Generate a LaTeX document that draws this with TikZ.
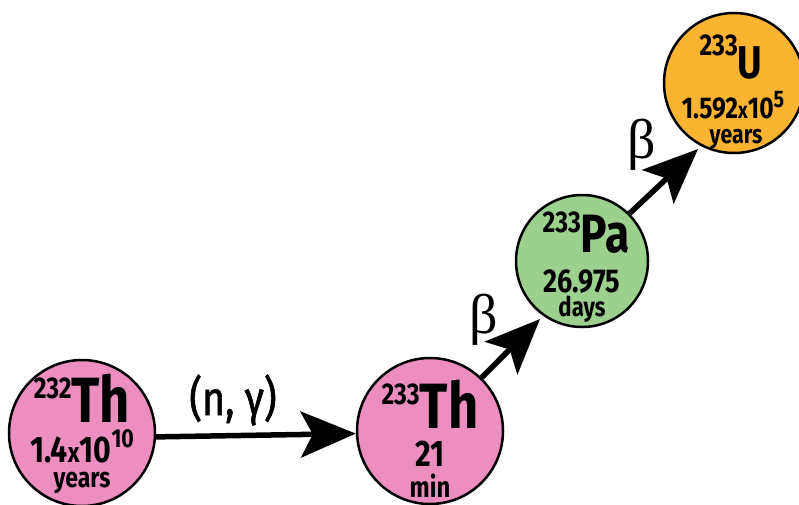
\documentclass[tikz,border=0pt]{standalone}
\usepackage{fontspec}
\newfontfamily\cond{Fira Sans}[FakeStretch=0.82]
\newfontfamily\condm{Fira Sans}[FakeStretch=0.82,FakeBold=1.2]
\newfontfamily\grk{Liberation Serif}
\usetikzlibrary{arrows.meta}
\definecolor{thpink}{HTML}{EC8FBE}
\definecolor{pagreen}{HTML}{9BD08F}
\definecolor{uorange}{HTML}{FBB432}
\newcommand{\fs}[1]{\fontsize{#1}{#1}\selectfont}
\begin{document}
\begin{tikzpicture}[x=1pt,y=-1pt,
  nuc/.style={circle, draw=black, line width=2.5pt, minimum size=#1, inner sep=0pt},
  lbl/.style={anchor=base, inner sep=0pt, font=\cond\bfseries},
  rlbl/.style={anchor=center, inner sep=0pt, font=\condm},
  glbl/.style={anchor=center, inner sep=0pt, font=\grk\fs{56}},
  arr/.style={line width=5.5pt, -{Stealth[length=55pt,width=46pt,inset=12pt]}},
]
\useasboundingbox (0,0) rectangle (799,504);
\fill[white] (0,0) rectangle (799,504);

% nuclides
\node[nuc=146pt, fill=thpink] (th1) at (82,433) {};
\node[nuc=146pt, fill=thpink] (th2) at (430,431) {};
\node[nuc=132pt, fill=pagreen] (pa) at (582,261) {};
\node[nuc=140pt, fill=uorange] (u) at (734,83) {};

% texts 232Th
\node[lbl] (th1a) at (82,422) {\raisebox{24pt}{\fs{30}232}\fs{64}Th};
\node[lbl] (th1b) at (82,462) {\fs{37}1.4\fs{28}x\fs{37}10\raisebox{15pt}{\fs{26}10}};
\node[lbl] (th1c) at (82,487) {\fs{28}years};

% texts 233Th
\node[lbl] (th2a) at (430,428) {\raisebox{24pt}{\fs{30}233}\fs{64}Th};
\node[lbl] (th2b) at (430,466) {\fs{37}21};
\node[lbl] (th2c) at (430,497) {\fs{29}min};

% texts 233Pa
\node[lbl] (paa) at (586,252) {\raisebox{20pt}{\fs{30}233}\fs{54}Pa};
\node[lbl] (pab) at (582,292) {\fs{33}26.975};
\node[lbl] (pac) at (582,316) {\fs{27}days};

% texts 233U
\node[lbl] (ua) at (731,78) {\raisebox{23pt}{\fs{30}233}\fs{46}U};
\node[lbl] (ub) at (733,118) {\fs{30}1.592\fs{23}x\fs{30}10\raisebox{11pt}{\fs{24}5}};
\node[lbl] (uc) at (736,143) {\fs{26}years};

% connectors
\coordinate (t1) at (540,319);
\coordinate (t2) at (698,149);
\draw[arr] (th1.-3) -- (th2.182);
\draw[arr] (th2.46) -- (t1);
\draw[arr] (pa.45) -- (t2);

% labels
\node[rlbl] (ng) at (233,400) {\fs{48}(n, γ)};
\node[glbl] (b1) at (484,320) {β};
\node[glbl] (b2) at (642,145) {β};
\end{tikzpicture}
\end{document}
